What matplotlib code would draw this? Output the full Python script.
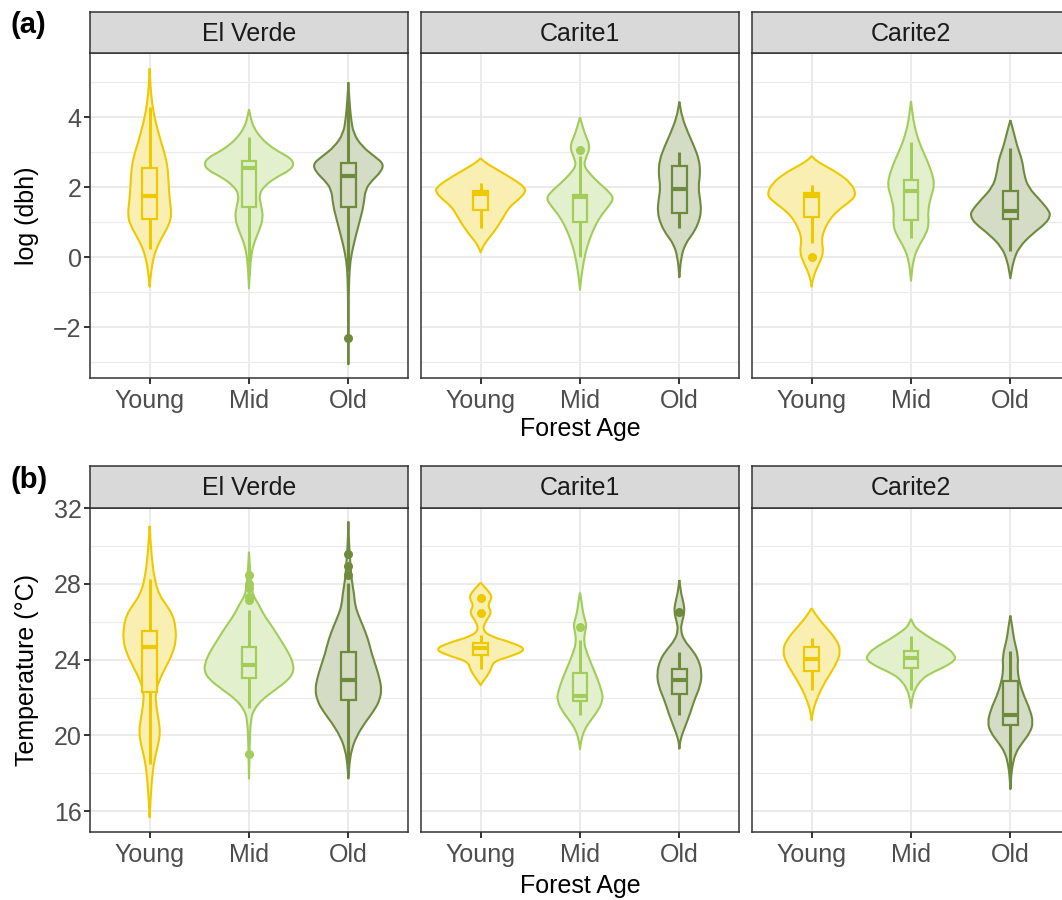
import numpy as np
import matplotlib.pyplot as plt
from matplotlib.patches import Rectangle, PathPatch
from matplotlib.path import Path
from matplotlib.colors import to_rgb

plt.rcParams['font.family'] = ['Liberation Sans', 'DejaVu Sans']

sites = ["El Verde", "Carite1", "Carite2"]
ages = ["Young", "Mid", "Old"]
age_colors = ["#EEC900", "#A2CD5A", "#6E8B3D"]

# ---- violin outlines: value level (y) and half width (w, x units)
# (a) log(dbh)
dbh_ev_young_y = [5.4, 4.9, 4.4, 4.0, 3.6, 3.2, 2.98, 2.6, 2.2, 1.7, 1.2, 0.9, 0.6, 0.3, 0.0, -0.4, -0.84]
dbh_ev_young_w = [0, 0.008, 0.025, 0.05, 0.085, 0.125, 0.15, 0.18, 0.19, 0.2, 0.222, 0.19, 0.13, 0.075, 0.04, 0.015, 0]
dbh_ev_mid_y = [4.23, 3.95, 3.7, 3.45, 3.2, 3.0, 2.85, 2.67, 2.48, 2.3, 2.05, 1.8, 1.5, 1.13, 0.75, 0.37, 0.0, -0.4, -0.89]
dbh_ev_mid_w = [0, 0.02, 0.05, 0.11, 0.2, 0.31, 0.41, 0.455, 0.41, 0.28, 0.16, 0.1, 0.12, 0.145, 0.1, 0.045, 0.02, 0.008, 0]
dbh_ev_old_y = [5.0, 4.5, 4.0, 3.54, 3.16, 2.87, 2.67, 2.45, 2.2, 1.94, 1.5, 1.1, 0.67, 0.29, -0.1, -0.6, -1.5, -3.06]
dbh_ev_old_w = [0, 0.01, 0.025, 0.05, 0.14, 0.27, 0.355, 0.33, 0.24, 0.17, 0.155, 0.12, 0.08, 0.047, 0.02, 0.007, 0.002, 0]
dbh_c1_young_y = [2.83, 2.7, 2.45, 2.16, 2.0, 1.88, 1.67, 1.44, 1.2, 0.96, 0.67, 0.39, 0.14]
dbh_c1_young_w = [0, 0.05, 0.2, 0.37, 0.44, 0.455, 0.39, 0.29, 0.24, 0.19, 0.12, 0.037, 0]
dbh_c1_mid_y = [4.0, 3.54, 3.16, 2.87, 2.63, 2.39, 2.1, 1.86, 1.67, 1.43, 1.15, 0.77, 0.3, -0.08, -0.55, -0.93]
dbh_c1_mid_w = [0, 0.047, 0.104, 0.063, 0.037, 0.097, 0.2, 0.297, 0.34, 0.28, 0.2, 0.13, 0.07, 0.04, 0.013, 0]
dbh_c1_old_y = [4.45, 4.0, 3.54, 3.16, 2.78, 2.39, 2.01, 1.63, 1.3, 0.96, 0.67, 0.39, 0.0, -0.57]
dbh_c1_old_w = [0, 0.027, 0.09, 0.15, 0.2, 0.21, 0.19, 0.21, 0.22, 0.19, 0.135, 0.06, 0.017, 0]
dbh_c2_young_y = [2.9, 2.77, 2.59, 2.4, 2.11, 1.79, 1.6, 1.31, 1.03, 0.74, 0.46, 0.17, -0.12, -0.4, -0.69, -0.84]
dbh_c2_young_w = [0, 0.04, 0.15, 0.27, 0.4, 0.45, 0.39, 0.25, 0.17, 0.12, 0.1, 0.12, 0.087, 0.037, 0.007, 0]
dbh_c2_mid_y = [4.47, 4.1, 3.72, 3.24, 2.77, 2.39, 2.06, 1.73, 1.33, 0.96, 0.67, 0.29, -0.1, -0.67]
dbh_c2_mid_w = [0, 0.015, 0.037, 0.087, 0.163, 0.213, 0.237, 0.2, 0.17, 0.18, 0.153, 0.07, 0.02, 0]
dbh_c2_old_y = [3.92, 3.54, 3.16, 2.77, 2.39, 2.01, 1.63, 1.34, 1.18, 0.96, 0.67, 0.29, -0.1, -0.6]
dbh_c2_old_w = [0, 0.037, 0.07, 0.12, 0.137, 0.177, 0.3, 0.387, 0.403, 0.353, 0.22, 0.087, 0.03, 0]

# (b) temperature
tmp_ev_young_y = [31.07, 29.6, 28.2, 27.4, 26.9, 26.36, 25.75, 25.05, 24.35, 23.65, 22.95, 22.25, 21.55,
                  20.84, 20.14, 19.44, 18.74, 18.04, 16.98, 15.67]
tmp_ev_young_w = [0, 0.017, 0.05, 0.1, 0.167, 0.233, 0.26, 0.267, 0.233, 0.167, 0.1, 0.057, 0.067,
                  0.09, 0.107, 0.083, 0.05, 0.03, 0.013, 0]
tmp_ev_mid_y = [29.7, 28.6, 27.9, 27.4, 26.9, 26.36, 25.75, 25.05, 24.35, 23.82, 23.38, 22.95, 22.42,
                21.9, 21.37, 20.84, 19.5, 17.72]
tmp_ev_mid_w = [0, 0.012, 0.025, 0.04, 0.1, 0.15, 0.233, 0.317, 0.4, 0.443, 0.45, 0.4, 0.267,
                0.133, 0.05, 0.017, 0.006, 0]
tmp_ev_old_y = [31.3, 30.2, 29.2, 28.2, 27.5, 26.9, 26.36, 25.75, 25.05, 24.35, 23.65, 22.95, 22.42,
                21.9, 21.37, 20.67, 19.96, 19.26, 18.5, 17.72]
tmp_ev_old_w = [0, 0.006, 0.018, 0.033, 0.057, 0.067, 0.1, 0.15, 0.2, 0.233, 0.277, 0.317, 0.333,
                0.317, 0.267, 0.167, 0.083, 0.033, 0.01, 0]
tmp_c1_young_y = [28.07, 27.86, 27.5, 27.25, 26.86, 26.49, 26.0, 25.58, 25.23, 24.88, 24.53, 24.17,
                  23.91, 23.47, 23.12, 22.77, 22.65]
tmp_c1_young_w = [0, 0.037, 0.097, 0.113, 0.07, 0.113, 0.047, 0.02, 0.097, 0.33, 0.465, 0.3,
                  0.13, 0.103, 0.063, 0.013, 0]
tmp_c1_mid_y = [27.54, 27.16, 26.46, 26.0, 25.75, 25.4, 24.88, 24.35, 23.65, 22.95, 22.25, 21.9,
                21.37, 20.84, 20.32, 19.79, 19.26]
tmp_c1_mid_w = [0, 0.013, 0.03, 0.057, 0.063, 0.047, 0.04, 0.07, 0.123, 0.18, 0.223, 0.23,
                0.19, 0.113, 0.047, 0.013, 0]
tmp_c1_old_y = [28.21, 27.5, 26.98, 26.53, 26.0, 25.58, 25.05, 24.53, 24.0, 23.3, 22.6, 21.9,
                21.19, 20.49, 19.79, 19.3]
tmp_c1_old_w = [0, 0.017, 0.043, 0.053, 0.027, 0.013, 0.043, 0.127, 0.193, 0.227, 0.21, 0.153,
                0.11, 0.06, 0.01, 0]
tmp_c2_young_y = [26.72, 26.28, 25.75, 25.05, 24.44, 23.82, 23.12, 22.42, 21.72, 21.19, 20.8]
tmp_c2_young_w = [0, 0.053, 0.137, 0.253, 0.293, 0.253, 0.17, 0.093, 0.037, 0.01, 0]
tmp_c2_mid_y = [26.16, 25.8, 25.58, 25.05, 24.61, 24.26, 24.0, 23.65, 23.3, 22.95, 22.42, 21.9, 21.46]
tmp_c2_mid_w = [0, 0.03, 0.07, 0.22, 0.37, 0.437, 0.45, 0.353, 0.203, 0.103, 0.037, 0.01, 0]
tmp_c2_old_y = [26.33, 25.7, 25.05, 24.17, 23.47, 22.77, 22.07, 21.37, 20.67, 20.14, 19.61, 19.09,
                18.39, 17.8, 17.16]
tmp_c2_old_w = [0, 0.02, 0.037, 0.08, 0.07, 0.093, 0.137, 0.197, 0.23, 0.197, 0.12, 0.053,
                0.02, 0.007, 0]

# ---- box plot summaries [site][age]
dbh_q1 = [[1.10, 1.45, 1.45], [1.35, 1.02, 1.26], [1.14, 1.07, 1.09]]
dbh_med = [[1.75, 2.56, 2.33], [1.81, 1.71, 1.95], [1.76, 1.89, 1.33]]
dbh_q3 = [[2.56, 2.76, 2.70], [1.89, 1.78, 2.62], [1.83, 2.21, 1.90]]
dbh_wlo = [[0.25, -0.5, -0.4], [0.83, 0.0, 0.83], [0.40, 0.54, 0.19]]
dbh_whi = [[4.3, 3.45, 4.5], [2.13, 2.9, 3.02], [2.07, 3.29, 3.13]]
dbh_out = [[[], [], [-2.31]], [[], [3.07], []], [[0.0], [], []]]

tmp_q1 = [[22.28, 23.02, 21.86], [24.26, 21.81, 22.19], [23.39, 23.56, 20.54]]
tmp_med = [[24.67, 23.72, 22.91], [24.61, 22.10, 22.95], [24.04, 24.09, 21.05]]
tmp_q3 = [[25.54, 24.65, 24.40], [24.88, 23.30, 23.51], [24.65, 24.47, 22.86]]
tmp_wlo = [[18.47, 21.46, 17.9], [23.51, 21.09, 21.05], [22.38, 22.42, 17.2]]
tmp_whi = [[28.25, 26.63, 28.04], [25.3, 25.05, 24.4], [25.14, 25.23, 24.47]]
tmp_out = [[[], [28.47, 28.0, 27.8, 27.3, 27.15, 19.0], [29.6, 28.96, 28.47]],
           [[27.25, 26.49], [25.75], [26.53]], [[], [], []]]

dbh_prof = [[(dbh_ev_young_y, dbh_ev_young_w), (dbh_ev_mid_y, dbh_ev_mid_w), (dbh_ev_old_y, dbh_ev_old_w)],
            [(dbh_c1_young_y, dbh_c1_young_w), (dbh_c1_mid_y, dbh_c1_mid_w), (dbh_c1_old_y, dbh_c1_old_w)],
            [(dbh_c2_young_y, dbh_c2_young_w), (dbh_c2_mid_y, dbh_c2_mid_w), (dbh_c2_old_y, dbh_c2_old_w)]]
tmp_prof = [[(tmp_ev_young_y, tmp_ev_young_w), (tmp_ev_mid_y, tmp_ev_mid_w), (tmp_ev_old_y, tmp_ev_old_w)],
            [(tmp_c1_young_y, tmp_c1_young_w), (tmp_c1_mid_y, tmp_c1_mid_w), (tmp_c1_old_y, tmp_c1_old_w)],
            [(tmp_c2_young_y, tmp_c2_young_w), (tmp_c2_mid_y, tmp_c2_mid_w), (tmp_c2_old_y, tmp_c2_old_w)]]


def light(c, a=0.3):
    r = np.array(to_rgb(c))
    return tuple(1 - a * (1 - r))


def mid(p, q):
    return ((p[0] + q[0]) / 2, (p[1] + q[1]) / 2)


def side_path(pts, first):
    # quadratic curves through knot midpoints, corners kept at the two tips
    verts = [pts[0], mid(pts[0], pts[1])]
    codes = [Path.MOVETO if first else Path.LINETO, Path.LINETO]
    for i in range(1, len(pts) - 1):
        verts += [pts[i], mid(pts[i], pts[i + 1])]
        codes += [Path.CURVE3, Path.CURVE3]
    verts.append(pts[-1])
    codes.append(Path.LINETO)
    return verts, codes


def draw_violin(ax, x, ys, ws, color):
    left = [(x - w, y) for y, w in zip(ys, ws)]
    right = [(x + w, y) for y, w in zip(ys[::-1], ws[::-1])]
    v1, c1 = side_path(left, True)
    v2, c2 = side_path(right, False)
    p = Path(v1 + v2, c1 + c2)
    ax.add_patch(PathPatch(p, facecolor=light(color), edgecolor='none', zorder=2))
    ax.add_patch(PathPatch(p, facecolor='none', edgecolor=color, lw=1.5,
                           joinstyle='round', zorder=3))


def draw_box(ax, x, q1, med, q3, wlo, whi, outs, color, bw=0.15):
    ax.plot([x, x], [q3, whi], color=color, lw=2.2, solid_capstyle='butt', zorder=4)
    ax.plot([x, x], [wlo, q1], color=color, lw=2.2, solid_capstyle='butt', zorder=4)
    ax.add_patch(Rectangle((x - bw / 2, q1), bw, q3 - q1, facecolor=light(color),
                           edgecolor=color, lw=1.6, zorder=5))
    ax.plot([x - bw / 2, x + bw / 2], [med, med], color=color, lw=3.0, solid_capstyle='butt', zorder=6)
    if outs:
        ax.plot([x] * len(outs), outs, 'o', ms=6.5, color=color, mec='none', zorder=7)


W, H = 1062, 900
fig = plt.figure(figsize=(W / 100, H / 100), dpi=100)

panel_x = [90, 421, 752]
pw = 318
rows = [
    dict(top=53, bot=378, strip=12, ylim=(-3.45, 5.84), major=[-2, 0, 2, 4], minor=[-3, -1, 1, 3, 5],
         prof=dbh_prof, q1=dbh_q1, med=dbh_med, q3=dbh_q3, wlo=dbh_wlo, whi=dbh_whi, out=dbh_out,
         ylabel="log (dbh)", tag="(a)", tag_y=25, xlab_y=429),
    dict(top=507.7, bot=831.7, strip=466, ylim=(14.91, 32.03), major=[16, 20, 24, 28, 32],
         minor=[18, 22, 26, 30],
         prof=tmp_prof, q1=tmp_q1, med=tmp_med, q3=tmp_q3, wlo=tmp_wlo, whi=tmp_whi, out=tmp_out,
         ylabel="Temperature (°C)", tag="(b)", tag_y=480, xlab_y=886),
]

for r in rows:
    for s, site in enumerate(sites):
        x0 = panel_x[s]
        ax = fig.add_axes([x0 / W, 1 - r['bot'] / H, pw / W, (r['bot'] - r['top']) / H])
        ax.set_xlim(0.4, 3.6)
        ax.set_ylim(*r['ylim'])
        for v in r['minor']:
            ax.axhline(v, color='#EBEBEB', lw=0.8, zorder=0)
        for v in r['major']:
            ax.axhline(v, color='#EBEBEB', lw=1.5, zorder=0)
        for xc in [1, 2, 3]:
            ax.axvline(xc, color='#EBEBEB', lw=1.5, zorder=0)
        for a in range(3):
            ys, ws = r['prof'][s][a]
            draw_violin(ax, a + 1, ys, ws, age_colors[a])
            draw_box(ax, a + 1, r['q1'][s][a], r['med'][s][a], r['q3'][s][a],
                     r['wlo'][s][a], r['whi'][s][a], r['out'][s][a], age_colors[a])
        for sp in ax.spines.values():
            sp.set_color('#333333')
            sp.set_linewidth(1.1)
        ax.set_xticks([1, 2, 3])
        ax.set_xticklabels(ages, fontsize=18, color='#4D4D4D')
        ax.tick_params(axis='x', length=4, width=1.4, color='#333333', pad=4)
        if s == 0:
            ax.set_yticks(r['major'])
            ax.set_yticklabels([str(v).replace('-', '\u2212') for v in r['major']],
                               fontsize=18, color='#4D4D4D')
            ax.tick_params(axis='y', length=4, width=1.4, color='#333333', pad=2)
        else:
            ax.set_yticks([])
        # facet strip
        sax = fig.add_axes([x0 / W, 1 - r['top'] / H, pw / W, (r['top'] - r['strip']) / H])
        sax.set_facecolor('#D9D9D9')
        sax.set_xticks([])
        sax.set_yticks([])
        for sp in sax.spines.values():
            sp.set_color('#333333')
            sp.set_linewidth(1.1)
        sax.text(0.5, 0.47, site, transform=sax.transAxes, ha='center', va='center',
                 fontsize=18, color='#1A1A1A')
    fig.text(27 / W, 1 - (r['top'] + r['bot']) / 2 / H, r['ylabel'], rotation=90,
             ha='center', va='center', fontsize=18)
    fig.text(580 / W, 1 - r['xlab_y'] / H, "Forest Age", ha='center', va='center', fontsize=18)
    fig.text(10 / W, 1 - r['tag_y'] / H, r['tag'], ha='left', va='center', fontsize=21,
             fontweight='bold')

fig.savefig("out.png", dpi=100)
